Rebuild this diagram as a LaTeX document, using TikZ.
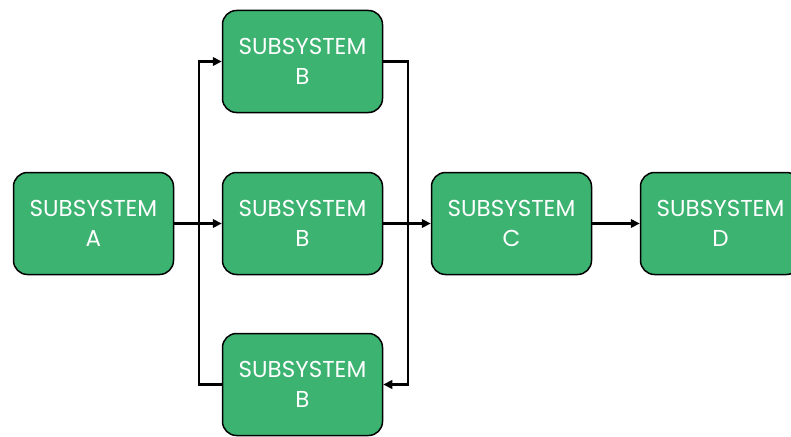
\documentclass[tikz,border=0pt]{standalone}
\usepackage{fontspec}
\setmainfont{Poppins}
\usetikzlibrary{arrows.meta}
\definecolor{boxgreen}{RGB}{60,179,113}
\begin{document}
\begin{tikzpicture}[x=1pt,y=-1pt,
  sub/.style={draw=black, line width=1.5pt, fill=boxgreen, rounded corners=14pt,
    minimum width=160pt, minimum height=102pt, text=white, align=center,
    font=\fontsize{23}{30}\selectfont, inner sep=0pt},
  conn/.style={line width=2.6pt},
  arr/.style={conn, -{Triangle[length=9pt,width=8.5pt]}}]
\useasboundingbox (0,0) rectangle (791,436);
\node[sub] (A) at (93.5,223.5) {SUBSYSTEM\\A};
\node[sub] (Bt) at (302.5,61.5) {SUBSYSTEM\\B};
\node[sub] (Bm) at (302.5,223.5) {SUBSYSTEM\\B};
\node[sub] (Bb) at (302.5,384.5) {SUBSYSTEM\\B};
\node[sub] (C) at (511.5,223.5) {SUBSYSTEM\\C};
\node[sub] (D) at (720.5,223.5) {SUBSYSTEM\\D};
\coordinate (jl) at (199,223.5);
\coordinate (jr) at (408,223.5);
\draw[arr] (A.east) -- (Bm.west);
\draw[arr] (jl) |- (Bt.west);
\draw[conn] (jl) |- (Bb.west);
\draw[conn] (Bt.east) -| (jr);
\draw[arr] (Bm.east) -- (C.west);
\draw[arr] (jr) |- (Bb.east);
\draw[arr] (C.east) -- (D.west);
\end{tikzpicture}
\end{document}
